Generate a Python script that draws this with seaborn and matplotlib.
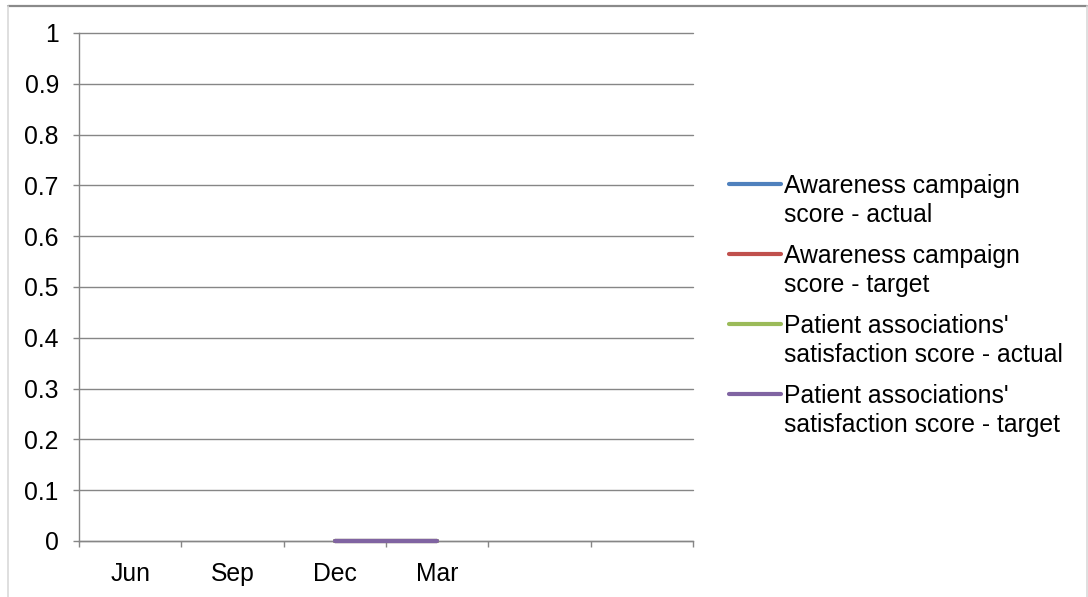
import numpy as np
import pandas as pd
import matplotlib
matplotlib.use("Agg")
import matplotlib.pyplot as plt
from matplotlib.lines import Line2D
from matplotlib.ticker import FuncFormatter, FixedLocator
import seaborn as sns

# Quarterly categories (last two periods not yet labelled)
categories = ["Jun", "Sep", "Dec", "Mar", "", ""]

series_names = [
    "Awareness campaign\nscore - actual",
    "Awareness campaign\nscore - target",
    "Patient associations'\nsatisfaction score - actual",
    "Patient associations'\nsatisfaction score - target",
]
awareness_actual = [np.nan, np.nan, 0, 0, np.nan, np.nan]
awareness_target = [np.nan, np.nan, 0, 0, np.nan, np.nan]
patient_actual = [np.nan, np.nan, 0, 0, np.nan, np.nan]
patient_target = [np.nan, np.nan, 0, 0, np.nan, np.nan]

colors = ["#4F81BD", "#C0504D", "#9BBB59", "#8064A2"]
y_ticks = [0, 0.1, 0.2, 0.3, 0.4, 0.5, 0.6, 0.7, 0.8, 0.9, 1]

sns.set_style("white")
plt.rcParams["font.family"] = ["Liberation Sans", "DejaVu Sans"]
plt.rcParams["font.size"] = 17.8
plt.rcParams["text.color"] = "black"
plt.rcParams["xtick.color"] = "black"
plt.rcParams["ytick.color"] = "black"
plt.rcParams["xtick.labelcolor"] = "black"
plt.rcParams["ytick.labelcolor"] = "black"

W, H = 1088, 597
fig = plt.figure(figsize=(W / 100, H / 100), dpi=100)
ax = fig.add_axes([79 / W, (H - 541) / H, (693 - 79) / W, (541 - 33) / H])

rows = []
for name, vals in zip(series_names, [awareness_actual, awareness_target,
                                     patient_actual, patient_target]):
    for i, v in enumerate(vals):
        rows.append({"period": i, "score": v, "series": name})
df = pd.DataFrame(rows).dropna()

sns.lineplot(data=df, x="period", y="score", hue="series",
             hue_order=series_names, palette=colors, linewidth=3.0,
             legend=False, ax=ax, solid_capstyle="round")

grid_color = "#868686"
ax.set_xlim(-0.5, len(categories) - 0.5)
ax.set_ylim(0, 1)
ax.set_xlabel("")
ax.set_ylabel("")

ax.yaxis.set_major_locator(FixedLocator(y_ticks))
ax.yaxis.set_major_formatter(FuncFormatter(lambda v, p: f"{v:g}"))
ax.grid(axis="y", color=grid_color, linewidth=1.0)
ax.grid(axis="x", visible=False)
for gl in ax.get_ygridlines():
    gl.set_clip_on(False)

ax.xaxis.set_major_locator(FixedLocator(np.arange(-0.5, len(categories), 1)))
ax.xaxis.set_major_formatter(FuncFormatter(lambda v, p: ""))
ax.xaxis.set_minor_locator(FixedLocator(np.arange(len(categories))))
ax.set_xticklabels(categories, minor=True)

ax.tick_params(axis="y", which="major", direction="out", length=4.5,
               width=1.0, color=grid_color, labelcolor="black", pad=10,
               left=True)
ax.tick_params(axis="x", which="major", direction="out", length=4.5,
               width=1.0, color=grid_color, bottom=True)
ax.tick_params(axis="x", which="minor", length=0, pad=15, bottom=True,
               labelcolor="black")

for side in ["top", "right"]:
    ax.spines[side].set_visible(False)
for side in ["left", "bottom"]:
    ax.spines[side].set_color(grid_color)
    ax.spines[side].set_linewidth(1.0)
ax.set_zorder(1)
for line in ax.lines:
    line.set_zorder(3)
    line.set_clip_on(False)

# Legend drawn at the right with each key aligned to the first text line
def fx(px):
    return px / W

def fy(py):
    return 1 - py / H

for i, (name, c) in enumerate(zip(series_names, colors)):
    key_y = 184 + 70 * i
    fig.add_artist(Line2D([fx(729), fx(781)], [fy(key_y), fy(key_y)],
                          color=c, linewidth=3.0, solid_capstyle="round"))
    first, second = name.split("\n")
    fig.text(fx(784), fy(key_y + 9), first, ha="left", va="baseline",
             color="black")
    fig.text(fx(784), fy(key_y + 38), second, ha="left", va="baseline",
             color="black")

# Chart frame
fig.add_artist(Line2D([fx(8), fx(1087)], [fy(6), fy(6)], color="#8a8a8a",
                      linewidth=1.6))
fig.add_artist(Line2D([fx(8), fx(8)], [fy(6), fy(H + 2)], color="#d9d9d9",
                      linewidth=1.2))
fig.add_artist(Line2D([fx(1087), fx(1087)], [fy(6), fy(H + 2)],
                      color="#d9d9d9", linewidth=1.2))

fig.savefig("out.png", dpi=100, facecolor="white")
